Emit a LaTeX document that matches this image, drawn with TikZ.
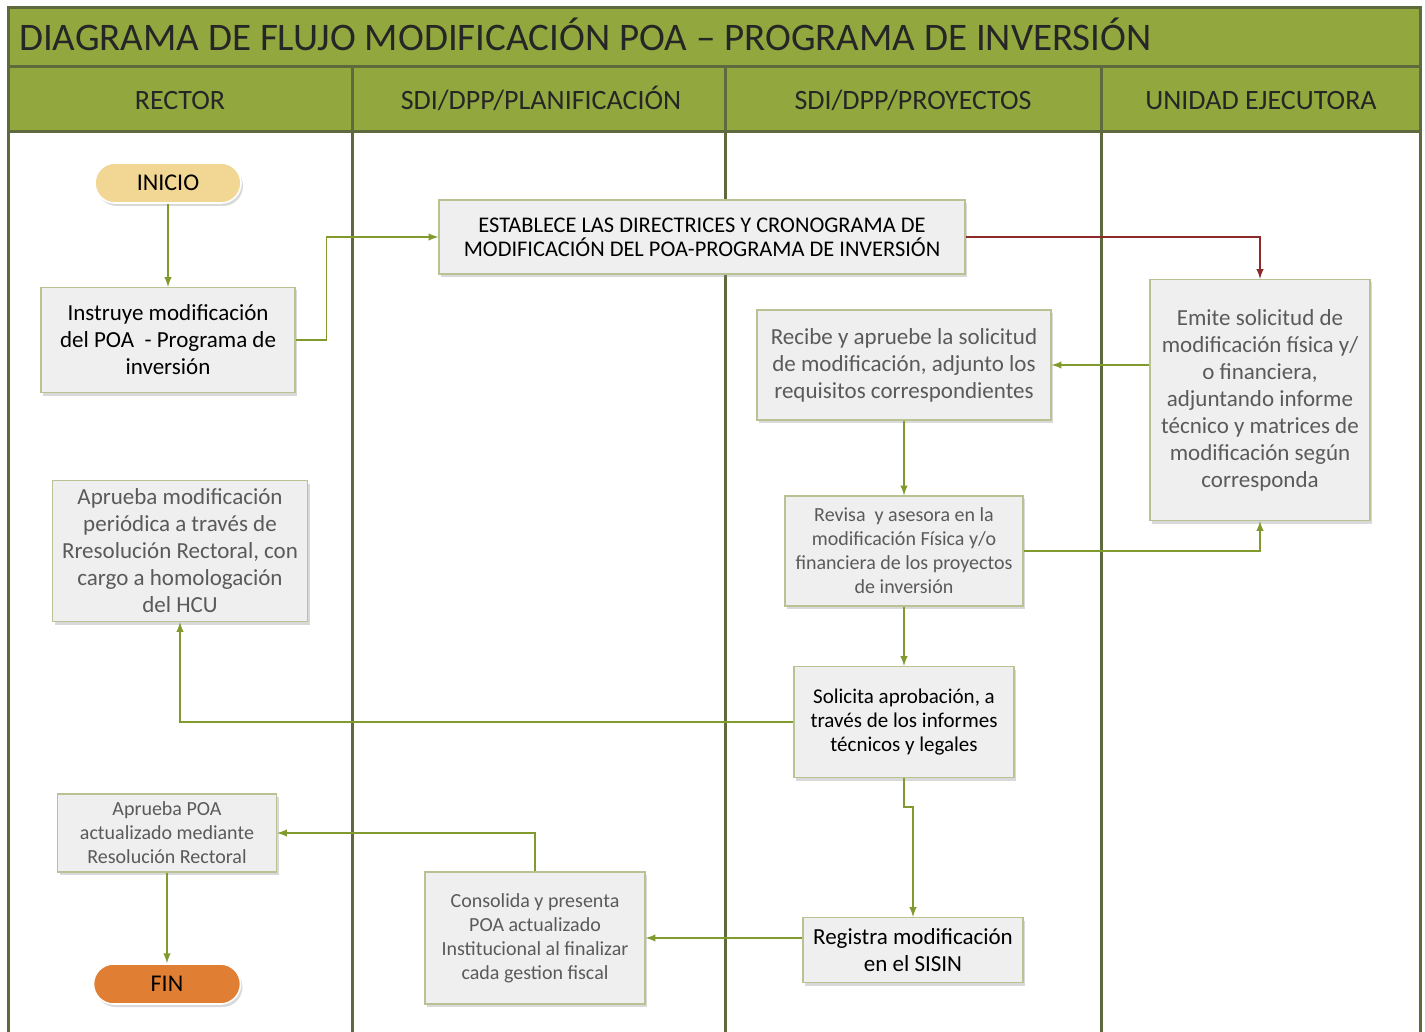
\documentclass[tikz,border=0pt]{standalone}
\usepackage{fontspec}
\setmainfont{Carlito}
\usetikzlibrary{arrows,shadows}
\definecolor{laneGreen}{RGB}{146,167,62}
\definecolor{laneEdge}{RGB}{94,106,62}
\definecolor{boxFill}{RGB}{239,239,239}
\definecolor{boxEdge}{RGB}{184,194,146}
\definecolor{flowGreen}{RGB}{128,154,46}
\definecolor{flowRed}{RGB}{140,42,42}
\definecolor{textGray}{RGB}{90,90,90}
\definecolor{startFill}{RGB}{242,214,148}
\definecolor{endFill}{RGB}{224,126,52}

\begin{document}
\begin{tikzpicture}[
                  x = 0.5pt,
                  y = -0.5pt,
       band/.style = {draw=laneEdge, fill=laneGreen, line width=1.5pt},
       lane/.style = {draw=laneEdge, line width=1.5pt},
       head/.style = {font=\fontsize{14}{16}\selectfont, text=black!85, text height=9.5pt, text depth=2.5pt},
       task/.style = {draw=boxEdge, fill=boxFill, line width=0.6pt, inner sep=0pt, align=center,
                      drop shadow={shadow xshift=1pt, shadow yshift=-1.5pt, opacity=0.3, fill=black!50}},
   taskdark/.style = {task, text=black},
  tasklight/.style = {task, text=textGray},
   terminal/.style = {draw=white, line width=0.8pt, rounded corners=10pt, inner sep=0pt,
                      minimum height=20pt, font=\fontsize{12}{14}\selectfont,
                      drop shadow={shadow xshift=1pt, shadow yshift=-1.5pt, opacity=0.3, fill=black!50}},
       flow/.style = {draw=flowGreen, line width=0.7pt, -latex},
    flowred/.style = {flow, draw=flowRed},
       big/.style = {font=\fontsize{11.5}{13.5}\selectfont},
     small/.style = {font=\fontsize{10}{12}\selectfont},
                    ]
\useasboundingbox (0,0) rectangle (1425,1032);
% lanes
\draw[band] (8,8) rectangle (1420,67);
\draw[band] (8,67) rectangle (1420,132);
\foreach \lx in {8,352,725,1101,1420}
    \draw[lane] (\lx,67) -- (\lx,1032);
\node[anchor=west, font=\fontsize{19.5}{22}\selectfont, text=black!85, text height=13.5pt, text depth=3.5pt] (title) at (12,41)
    {DIAGRAMA DE FLUJO MODIFICACIÓN POA – PROGRAMA DE INVERSIÓN};
\node[head] (lrector) at (180,103) {RECTOR};
\node[head] (lplan)   at (541,103) {SDI/DPP/PLANIFICACIÓN};
\node[head] (lproy)   at (913,103) {SDI/DPP/PROYECTOS};
\node[head] (lunid)   at (1261,103) {UNIDAD EJECUTORA};

% steps
\node[terminal, fill=startFill, minimum width=73pt] (inicio) at (168,183) {INICIO};
\node[taskdark, big, minimum width=127pt, minimum height=52.5pt] (instr) at (168,340)
    {Instruye modificación\\del POA\ \ - Programa de\\inversión};
\node[taskdark, font=\fontsize{11.2}{12}\selectfont, minimum width=263pt, minimum height=37pt] (estab) at (702,237)
    {ESTABLECE LAS DIRECTRICES Y CRONOGRAMA DE\\MODIFICACIÓN DEL POA-PROGRAMA DE INVERSIÓN};
\node[tasklight, big, minimum width=110pt, minimum height=120.5pt] (emite) at (1260,400)
    {Emite solicitud de\\modificación física y/\\o financiera,\\adjuntando informe\\técnico y matrices de\\modificación según\\corresponda};
\node[tasklight, big, minimum width=147pt, minimum height=55pt] (recibe) at (904,365)
    {Recibe y apruebe la solicitud\\de modificación, adjunto los\\requisitos correspondientes};
\node[tasklight, small, minimum width=119pt, minimum height=55pt] (revisa) at (904,551)
    {Revisa\ \ y asesora en la\\modificación Física y/o\\financiera de los proyectos\\de inversión};
\node[tasklight, big, minimum width=127.5pt, minimum height=70.5pt] (aprmod) at (180,551)
    {Aprueba modificación\\periódica a través de\\Rresolución Rectoral, con\\cargo a homologación\\del HCU};
\node[taskdark, font=\fontsize{10.5}{12}\selectfont, minimum width=110pt, minimum height=55.5pt] (solic) at (904,722)
    {Solicita aprobación, a\\través de los informes\\técnicos y legales};
\node[tasklight, small, minimum width=109.5pt, minimum height=39pt] (aprpoa) at (167,833)
    {Aprueba POA\\actualizado mediante\\Resolución Rectoral};
\node[tasklight, small, minimum width=110pt, minimum height=66pt] (consol) at (535,938)
    {Consolida y presenta\\POA actualizado\\Institucional al finalizar\\cada gestion fiscal};
\node[taskdark, big, minimum width=110pt, minimum height=32.5pt] (regis) at (913,950)
    {Registra modificación\\en el SISIN};
\node[terminal, fill=endFill, minimum width=73.5pt] (fin) at (167,984) {FIN};

% connectors
\draw[flow] (inicio) -- (instr);
\draw[flow] (instr.east) -- ++(31,0) |- (estab.west);
\draw[flowred] (estab.east) -| (emite.north);
\draw[flow] (recibe.east -| emite.west) -- (recibe.east);
\draw[flow] (recibe) -- (revisa);
\draw[flow] (revisa.east) -| (emite.south);
\draw[flow] (revisa) -- (solic);
\draw[flow] (solic.west) -| (aprmod.south);
\draw[flow] (solic.south) -- ++(0,29) -| (regis.north);
\draw[flow] (consol.east -| regis.west) -- (consol.east);
\draw[flow] (consol.north) |- (aprpoa.east);
\draw[flow] (aprpoa) -- (fin);
\end{tikzpicture}
\end{document}
